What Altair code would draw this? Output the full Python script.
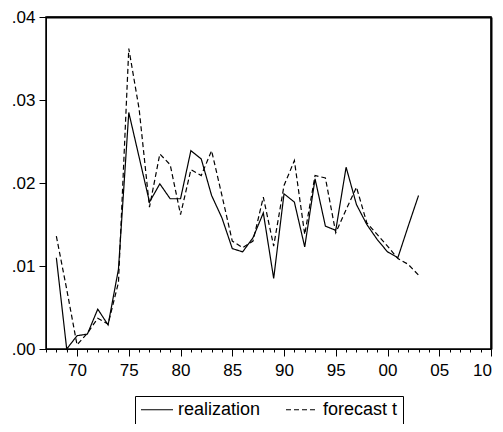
import altair as alt
import pandas as pd

years = list(range(1968, 2004))
realization = [0.0110, 0.0000, 0.0016, 0.0018, 0.0048, 0.0029, 0.0096, 0.0285,
               0.0231, 0.0177, 0.0199, 0.0181, 0.0181, 0.0239, 0.0229, 0.0185,
               0.0158, 0.0121, 0.0117, 0.0134, 0.0164, 0.0085, 0.0187, 0.0177,
               0.0123, 0.0205, 0.0148, 0.0143, 0.0219, 0.0174, 0.0150, 0.0132,
               0.0117, 0.0110, 0.0148, 0.0185]
forecast = [0.0136, 0.0072, 0.0005, 0.0019, 0.0037, 0.0030, 0.0080, 0.0362,
            0.0289, 0.0171, 0.0235, 0.0222, 0.0162, 0.0216, 0.0209, 0.0239,
            0.0185, 0.0130, 0.0122, 0.0130, 0.0183, 0.0124, 0.0197, 0.0227,
            0.0138, 0.0209, 0.0206, 0.0140, 0.0168, 0.0195, 0.0152, 0.0138,
            0.0124, 0.0109, 0.0102, 0.0089]
series_names = ["realization", "forecast t"]
y_ticks = [0.0, 0.01, 0.02, 0.03, 0.04]
x_ticks = list(range(1967, 2011))

df = pd.concat([
    pd.DataFrame({"year": years, "value": realization, "series": series_names[0]}),
    pd.DataFrame({"year": years, "value": forecast, "series": series_names[1]}),
])

FONT = "Liberation Sans"
x_scale = alt.Scale(domain=[1967, 2010], nice=False, zero=False)
y_scale = alt.Scale(domain=[0, 0.04], nice=False)

lines = alt.Chart(df).mark_line(strokeWidth=1.2, color="black").encode(
    x=alt.X("year:Q", scale=x_scale,
            axis=alt.Axis(values=x_ticks, title=None, grid=False,
                          labelExpr="datum.value % 5 === 0 ? substring(toString(datum.value), 2, 4) : ''",
                          tickSize={"condition": {"test": "datum.value % 5 === 0", "value": 7}, "value": 3},
                          labelOffset={"condition": {"test": "datum.value === 2010", "value": -9}, "value": 0},
                          labelPadding=6, labelOverlap=False, labelFlush=False,
                          domainColor="black", tickColor="black", labelColor="black",
                          labelFont=FONT, labelFontSize=17)),
    y=alt.Y("value:Q", scale=y_scale,
            axis=alt.Axis(values=y_ticks, title=None, grid=False,
                          labelExpr="replace(format(datum.value, '.2f'), '0.', '.')",
                          tickSize=7, labelPadding=4,
                          domainColor="black", tickColor="black", labelColor="black",
                          labelFont=FONT, labelFontSize=17)),
    strokeDash=alt.StrokeDash("series:N",
                              scale=alt.Scale(domain=series_names, range=[[1, 0], [5, 3]]),
                              legend=alt.Legend(title=None, orient="none", direction="horizontal",
                                                legendX=89, legendY=379,
                                                symbolType="stroke", symbolSize=1024,
                                                symbolStrokeColor="black", symbolStrokeWidth=1.2,
                                                labelFont=FONT, labelFontSize=18, labelColor="black",
                                                labelOffset=4, columnPadding=24, padding=5,
                                                clipHeight=17,
                                                strokeColor="black", fillColor="white")),
    detail="series:N",
)

frame = alt.Chart(df).mark_line(opacity=0).encode(
    x=alt.X("year:Q", scale=x_scale,
            axis=alt.Axis(orient="top", labels=False, ticks=False, title=None, grid=False,
                          domainColor="#000000", domainWidth=2)),
    y=alt.Y("value:Q", scale=y_scale,
            axis=alt.Axis(orient="right", labels=False, ticks=False, title=None, grid=False,
                          domainColor="#000000", domainWidth=2)),
)

chart = alt.layer(lines, frame).resolve_axis(x="independent", y="independent").properties(
    width=445, height=332,
    background="white",
    autosize=alt.AutoSizeParams(type="none"),
    padding={"left": 38, "top": 9, "right": 4, "bottom": 75},
).configure_view(stroke="#000000", strokeWidth=1.5)

chart.save("out.html", embed_options={"renderer": "svg", "actions": False})
